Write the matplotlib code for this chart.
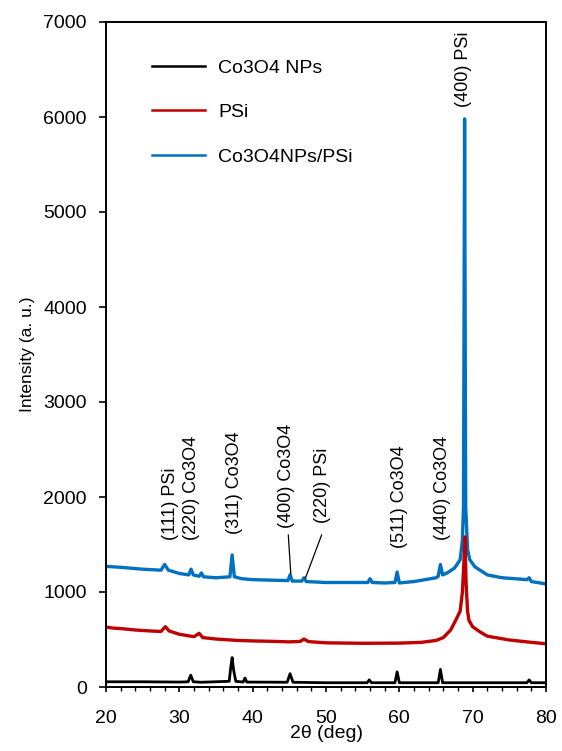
import matplotlib
matplotlib.use("Agg")
import matplotlib.pyplot as plt
from matplotlib import font_manager as fm
from matplotlib.ticker import MultipleLocator

# ---------------- data ----------------
series_labels = ["Co3O4 NPs", "PSi", "Co3O4NPs/PSi"]

co3o4_x = [20, 25, 30, 31.2, 31.55, 31.9, 33, 36.8, 37.0, 37.2, 37.4, 37.7, 38.7, 38.95, 39.2,
           44.7, 45.1, 45.5, 50, 55.6, 55.9, 56.2, 59.4, 59.7, 60.0, 65.3, 65.6, 65.9, 70,
           77.4, 77.7, 78.0, 80]
co3o4_y = [55, 55, 52, 55, 125, 55, 50, 60, 200, 310, 180, 60, 52, 95, 52,
           50, 140, 50, 45, 45, 75, 45, 45, 160, 45, 45, 185, 45, 45,
           45, 75, 45, 45]

psi_x = [20, 21, 22, 24, 26, 27.5, 28.1, 28.6, 30, 32, 32.7, 33.2, 35, 38, 40, 43, 45, 46.5,
         47.0, 47.6, 50, 55, 60, 63, 65, 66, 67, 67.8, 68.3, 68.6, 68.8, 68.95, 69.1, 69.3,
         69.5, 70, 71, 72, 75, 78, 80]
psi_y = [630, 620, 615, 600, 590, 585, 635, 590, 555, 530, 565, 520, 505, 490, 485, 480, 475,
         480, 505, 478, 465, 460, 462, 470, 490, 520, 600, 720, 800, 1000, 1300, 1580, 1100,
         800, 700, 635, 580, 535, 495, 470, 455]

comp_x = [20, 22, 25, 27.5, 28.0, 28.5, 30, 31.3, 31.6, 31.9, 32.7, 33.0, 33.3, 35, 36.9, 37.2,
          37.5, 38.5, 40, 44.8, 45.1, 45.4, 46.7, 47.0, 47.3, 50, 55.7, 56.0, 56.3, 58, 59.4,
          59.7, 60.0, 62, 65.0, 65.3, 65.6, 65.9, 66.5, 67.5, 68.3, 68.6, 68.75, 68.9, 69.05,
          69.3, 69.6, 70.3, 71, 72, 74, 77.4, 77.7, 78, 80]
comp_y = [1270, 1260, 1240, 1230, 1290, 1230, 1195, 1180, 1240, 1180, 1165, 1200, 1160, 1150,
          1160, 1390, 1160, 1140, 1130, 1120, 1180, 1115, 1115, 1150, 1110, 1100, 1100, 1140,
          1100, 1095, 1100, 1210, 1095, 1110, 1150, 1165, 1290, 1180, 1200, 1250, 1340, 1550,
          1900, 5980, 1900, 1450, 1340, 1266, 1230, 1180, 1150, 1130, 1150, 1110, 1085]

peak_labels = ["(111) PSi", "(220) Co3O4", "(311) Co3O4", "(400) Co3O4", "(220) PSi",
               "(511) Co3O4", "(440) Co3O4", "(400) PSi"]
peak_label_x = [28.8, 31.7, 37.56, 44.6, 49.5, 59.96, 65.9, 68.8]
peak_label_y = [1545, 1545, 1610, 1673, 1726, 1463, 1547, 6105]

x_ticks = [20, 30, 40, 50, 60, 70, 80]
y_ticks = [0, 1000, 2000, 3000, 4000, 5000, 6000, 7000]

# ---------------- style ----------------
names = {f.name for f in fm.fontManager.ttflist}
if "Liberation Sans Narrow" in names:
    hfont = ["Liberation Sans Narrow", "DejaVu Sans"]
    hsize = 15
else:
    hfont = ["Liberation Sans", "DejaVu Sans"]
    hsize = 14
rfont = ["Liberation Sans", "DejaVu Sans"]

plt.rcParams["font.family"] = hfont

colors = ["#000000", "#C00000", "#0070C0"]

fig = plt.figure(figsize=(5.62, 7.51), dpi=100)
ax = fig.add_axes([106 / 562, 1 - 687 / 751, 440 / 562, 665 / 751])

l_comp, = ax.plot(comp_x, comp_y, color=colors[2], lw=2.4, solid_joinstyle="round")
l_psi, = ax.plot(psi_x, psi_y, color=colors[1], lw=2.4, solid_joinstyle="round")
l_co, = ax.plot(co3o4_x, co3o4_y, color=colors[0], lw=2.0, solid_joinstyle="round")

ax.set_xlim(20, 80)
ax.set_ylim(0, 7000)
ax.set_xticks(x_ticks)
ax.set_yticks(y_ticks)
ax.xaxis.set_minor_locator(MultipleLocator(2))
ax.set_xticklabels([str(v) for v in x_ticks], fontsize=hsize, family=hfont)
ax.set_yticklabels([str(v) for v in y_ticks], fontsize=hsize, family=hfont)
ax.tick_params(axis="x", which="major", direction="out", length=3.8, width=1.2, pad=12.5)
ax.tick_params(axis="x", which="minor", direction="out", length=3.2, width=1.0)
ax.tick_params(axis="y", which="major", direction="out", length=4.7, width=1.2, pad=9.0)
for s in ax.spines.values():
    s.set_linewidth(1.4)

ax.set_xlabel("2θ (deg)", fontsize=hsize, family=hfont)
ax.xaxis.set_label_coords(0.5, -(725 - 687) / 665)
ax.xaxis.label.set_va("top")
ax.set_ylabel("Intensity (a. u.)", fontsize=12.5, family=rfont)
ax.yaxis.set_label_coords((35 - 106) / 440, 0.5)

leg = ax.legend([l_co, l_psi, l_comp], series_labels, loc="upper left",
                bbox_to_anchor=((152 - 106) / 440, 1 - (59 - 22) / 665),
                frameon=False, borderpad=0, borderaxespad=0, handlelength=2.73,
                handletextpad=0.67, labelspacing=1.38, prop={"family": hfont, "size": hsize})
for h in leg.get_lines():
    h.set_linewidth(1.8)

for t, x, y in zip(peak_labels, peak_label_x, peak_label_y):
    ax.text(x, y, t, rotation=90, ha="center", va="bottom", fontsize=13, family=rfont)

ax.plot([44.86, 45.2], [1600, 1190], color="black", lw=0.9)
ax.plot([49.4, 47.2], [1600, 1147], color="black", lw=0.9)

fig.savefig("out.png", dpi=100)
